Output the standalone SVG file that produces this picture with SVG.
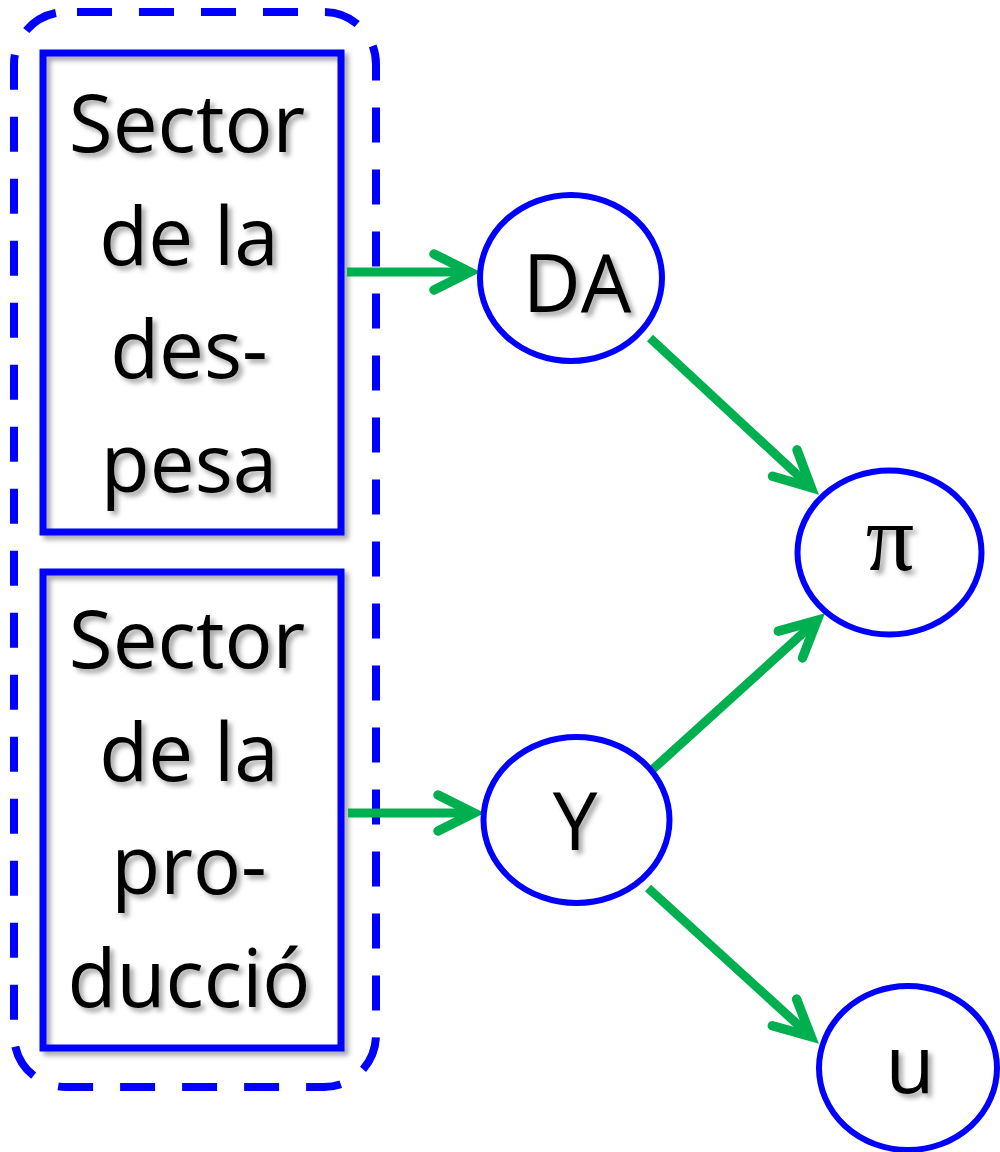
<svg xmlns="http://www.w3.org/2000/svg" width="1000" height="1152" viewBox="0 0 1000 1152">
  <defs>
    <filter id="sh" x="-20%" y="-20%" width="140%" height="140%">
      <feDropShadow dx="4" dy="4" stdDeviation="2.5" flood-color="#000" flood-opacity="0.35"/>
    </filter>
    <marker id="arr" markerUnits="userSpaceOnUse" viewBox="-50 -30 60 60" markerWidth="60" markerHeight="60" refX="0" refY="0" orient="auto" overflow="visible">
      <path d="M-34,-18 L2,0 L-34,18" fill="none" stroke="#00B050" stroke-width="9.5" stroke-linecap="round" stroke-linejoin="miter"/>
    </marker>
    <style>
      .box { fill: none; stroke: #0000FF; stroke-width: 7; }
      .node { fill: #FFFFFF; stroke: #0000FF; stroke-width: 6; }
      .lbl { font-family: "Open Sans", "Noto Sans", sans-serif; font-size: 80px; fill: #000; text-anchor: middle; }
      .sym { font-family: "Liberation Serif", "DejaVu Serif", serif; font-size: 96px; fill: #000; text-anchor: middle; }
      .edge { fill: none; stroke: #00B050; stroke-width: 9; marker-end: url(#arr); }
    </style>
  </defs>
  <rect width="1000" height="1152" fill="#FFFFFF"/>

  <g id="group-outline">
    <rect x="14" y="12" width="362" height="1075" rx="52" ry="52" fill="none" stroke="#0000FF" stroke-width="8" stroke-dasharray="35 27" stroke-dashoffset="51"/>
  </g>

  <g id="sector-despesa">
    <rect class="box" x="43" y="53" width="298" height="479" filter="url(#sh)"/>
    <g filter="url(#sh)">
      <text class="lbl" x="187" y="152">Sector</text>
      <text class="lbl" x="189" y="265">de la</text>
      <text class="lbl" x="189" y="378">des-</text>
      <text class="lbl" x="189" y="492">pesa</text>
    </g>
  </g>

  <g id="sector-produccio">
    <rect class="box" x="43" y="572" width="298" height="476" filter="url(#sh)"/>
    <g filter="url(#sh)">
      <text class="lbl" x="187" y="668">Sector</text>
      <text class="lbl" x="189" y="781">de la</text>
      <text class="lbl" x="189" y="894">pro-</text>
      <text class="lbl" x="189" y="1007">ducció</text>
    </g>
  </g>

  <g id="connectors">
    <line class="edge" x1="347" y1="272" x2="468" y2="272"/>
    <line class="edge" x1="348" y1="813" x2="472" y2="813"/>
    <line class="edge" x1="650" y1="338" x2="809.7" y2="486.2"/>
    <line class="edge" x1="652" y1="770" x2="815.6" y2="621.7"/>
    <line class="edge" x1="648" y1="888" x2="809.6" y2="1035.3"/>
  </g>

  <g id="node-DA">
    <ellipse class="node" cx="571" cy="278" rx="91" ry="83"/>
    <text class="lbl" x="577" y="312" filter="url(#sh)">DA</text>
  </g>

  <g id="node-pi">
    <ellipse class="node" cx="889.5" cy="552.5" rx="92" ry="82"/>
    <text class="sym" x="890" y="570" filter="url(#sh)">π</text>
  </g>

  <g id="node-Y">
    <ellipse class="node" cx="576.5" cy="820" rx="93" ry="83"/>
    <text class="lbl" x="575" y="850" filter="url(#sh)">Y</text>
  </g>

  <g id="node-u">
    <ellipse class="node" cx="908" cy="1068" rx="89" ry="82"/>
    <text class="lbl" x="910" y="1093" filter="url(#sh)">u</text>
  </g>
</svg>
